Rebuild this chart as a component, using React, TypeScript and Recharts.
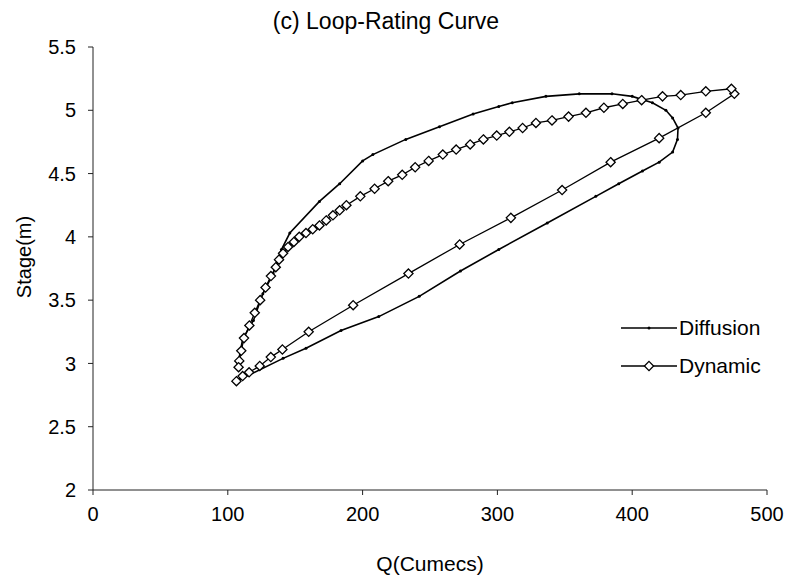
import { ScatterChart, Scatter, XAxis, YAxis } from 'recharts'

// Diffusion wave model: rising limb (lower branch) then falling limb (upper branch)
const diffusionQ = [
  106.4, 141, 158, 184, 212, 242, 272.6, 301, 337, 373, 390, 407.6, 420, 430, 433.6, 434,
  430, 425, 415, 400, 385, 360.7, 336, 311, 301, 282, 257, 232, 207.6, 200, 183, 168,
  146, 139.8, 133.6, 126, 119, 111, 107.6,
]
const diffusionStage = [
  2.86, 3.04, 3.12, 3.26, 3.37, 3.53, 3.73, 3.9, 4.11, 4.32, 4.42, 4.52, 4.59, 4.67, 4.77, 4.86,
  4.94, 5.0, 5.06, 5.11, 5.13, 5.13, 5.11, 5.06, 5.03, 4.97, 4.87, 4.77, 4.65, 4.6, 4.42, 4.28,
  4.03, 3.9, 3.71, 3.55, 3.34, 3.19, 3.0,
]

// Dynamic wave model
const dynamicQ = [
  106.4, 111, 115.8, 123.7, 131.9, 140.5, 160, 193, 234, 272, 310, 348, 384, 420, 454.6, 475.8,
  473.6, 454.6, 436, 422.5, 407, 393, 379, 365.7, 352.8, 340.5, 328.6, 318.7, 308.9, 299.5,
  289.6, 279.8, 269.4, 259.5, 249, 239, 229.4, 219, 208.9, 198.3, 188, 183, 178, 173, 168, 163,
  158, 153, 149, 144.7, 141, 138, 135.6, 132, 128, 124, 120, 116, 112, 110, 108.5, 108,
]
const dynamicStage = [
  2.86, 2.9, 2.93, 2.98, 3.05, 3.11, 3.25, 3.46, 3.71, 3.94, 4.15, 4.37, 4.59, 4.78, 4.98, 5.13,
  5.17, 5.15, 5.12, 5.11, 5.08, 5.05, 5.02, 4.98, 4.95, 4.92, 4.9, 4.86, 4.83, 4.8,
  4.77, 4.73, 4.69, 4.65, 4.6, 4.55, 4.49, 4.44, 4.38, 4.32, 4.25, 4.21, 4.17, 4.13, 4.09, 4.06,
  4.03, 4.0, 3.96, 3.92, 3.87, 3.82, 3.76, 3.69, 3.6, 3.5, 3.4, 3.3, 3.2, 3.1, 3.02, 2.97,
]

const xTicks = [0, 100, 200, 300, 400, 500]
const yTicks = [2, 2.5, 3, 3.5, 4, 4.5, 5, 5.5]

const diffusion = diffusionQ.map((q, i) => ({ q, s: diffusionStage[i] }))
const dynamic = dynamicQ.map((q, i) => ({ q, s: dynamicStage[i] }))

const FONT = '"Liberation Sans", Arial, sans-serif'
const TICK = { fill: '#000', fontSize: 20, fontFamily: FONT }

const Diamond = (props: { cx?: number; cy?: number }) => {
  const { cx = 0, cy = 0 } = props
  const r = 4.6
  return (
    <polygon
      points={`${cx},${cy - r} ${cx + r},${cy} ${cx},${cy + r} ${cx - r},${cy}`}
      fill="#fff"
      stroke="#000"
      strokeWidth={1.3}
    />
  )
}

const Dot = (props: { cx?: number; cy?: number }) => {
  const { cx = 0, cy = 0 } = props
  return <circle cx={cx} cy={cy} r={1.5} fill="#000" />
}

function LegendBox() {
  return (
    <div style={{ position: 'absolute', left: 621, top: 309, fontFamily: FONT, fontSize: 21, color: '#000' }}>
      <div style={{ display: 'flex', alignItems: 'center', height: 38 }}>
        <svg width={56} height={12}>
          <line x1={0} y1={6} x2={56} y2={6} stroke="#000" strokeWidth={1.5} />
          <circle cx={28} cy={6} r={1.5} fill="#000" />
        </svg>
        <span style={{ marginLeft: 2 }}>Diffusion</span>
      </div>
      <div style={{ display: 'flex', alignItems: 'center', height: 38 }}>
        <svg width={56} height={12}>
          <line x1={0} y1={6} x2={56} y2={6} stroke="#000" strokeWidth={1.5} />
          <polygon points="28,1.4 32.6,6 28,10.6 23.4,6" fill="#fff" stroke="#000" strokeWidth={1.3} />
        </svg>
        <span style={{ marginLeft: 2 }}>Dynamic</span>
      </div>
    </div>
  )
}

export default function App() {
  return (
    <div style={{ position: 'absolute', left: 0, top: 0, width: 796, height: 580, background: '#fff' }}>
      <ScatterChart width={796} height={580} margin={{ top: 47, right: 29, bottom: 0, left: 0 }}>
        <XAxis
          type="number"
          dataKey="q"
          domain={[0, 500]}
          ticks={xTicks}
          interval={0}
          height={90}
          tick={TICK}
          tickSize={5}
          tickMargin={12}
          stroke="#222"
          allowDataOverflow
        />
        <YAxis
          type="number"
          dataKey="s"
          domain={[2, 5.5]}
          ticks={yTicks}
          interval={0}
          width={93}
          tick={TICK}
          tickSize={5}
          tickMargin={12}
          stroke="#222"
          allowDataOverflow
        />
        <Scatter
          name="Diffusion"
          data={diffusion}
          line={{ stroke: '#000', strokeWidth: 1.6 }}
          lineType="joint"
          shape={<Dot />}
          isAnimationActive={false}
        />
        <Scatter
          name="Dynamic"
          data={dynamic}
          line={{ stroke: '#000', strokeWidth: 1.3 }}
          lineType="joint"
          shape={<Diamond />}
          isAnimationActive={false}
        />
      </ScatterChart>
      <div
        style={{
          position: 'absolute',
          left: 0,
          width: 772,
          top: 8,
          textAlign: 'center',
          fontFamily: FONT,
          fontSize: 23,
        }}
      >
        (c) Loop-Rating Curve
      </div>
      <div
        style={{
          position: 'absolute',
          left: 24,
          top: 257,
          transform: 'translate(-50%, -50%) rotate(-90deg)',
          fontFamily: FONT,
          fontSize: 20,
          whiteSpace: 'nowrap',
        }}
      >
        Stage(m)
      </div>
      <div
        style={{
          position: 'absolute',
          left: 0,
          width: 860,
          top: 552,
          textAlign: 'center',
          fontFamily: FONT,
          fontSize: 21,
        }}
      >
        Q(Cumecs)
      </div>
      <LegendBox />
    </div>
  )
}
